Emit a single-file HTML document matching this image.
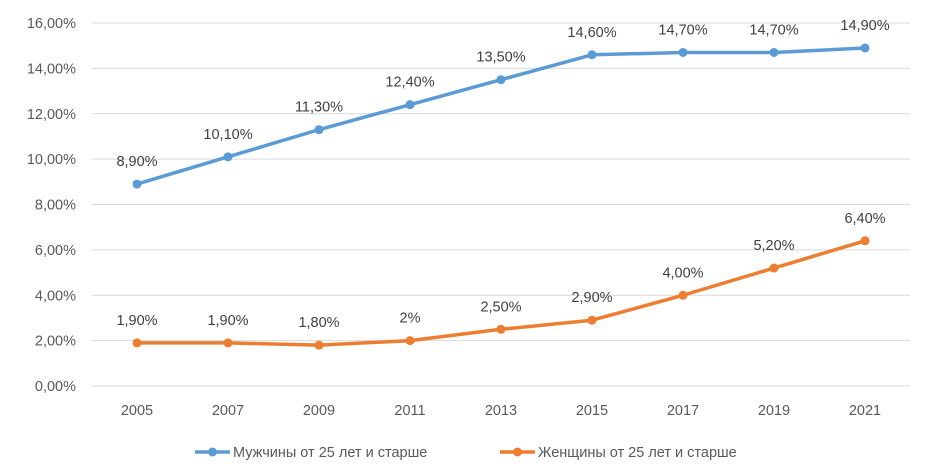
<!DOCTYPE html>
<html><head><meta charset="utf-8"><style>
html,body{margin:0;padding:0;background:#fff;}
svg{display:block;font-family:"Liberation Sans","DejaVu Sans",sans-serif;}
</style></head><body>
<svg id="chart" width="943" height="476" viewBox="0 0 943 476" xmlns="http://www.w3.org/2000/svg">
<g id="grid"></g>
<g id="yaxis"></g>
<g id="xaxis"></g>
<g id="series"></g>
<g id="legend"></g>
</svg>
<script>
const categories = ["2005","2007","2009","2011","2013","2015","2017","2019","2021"];
const menValues = [8.9,10.1,11.3,12.4,13.5,14.6,14.7,14.7,14.9];
const womenValues = [1.9,1.9,1.8,2.0,2.5,2.9,4.0,5.2,6.4];
const menLabels = ["8,90%","10,10%","11,30%","12,40%","13,50%","14,60%","14,70%","14,70%","14,90%"];
const womenLabels = ["1,90%","1,90%","1,80%","2%","2,50%","2,90%","4,00%","5,20%","6,40%"];
const yTicks = [0,2,4,6,8,10,12,14,16];
const yTickLabels = ["0,00%","2,00%","4,00%","6,00%","8,00%","10,00%","12,00%","14,00%","16,00%"];
const seriesNames = ["Мужчины от 25 лет и старше","Женщины от 25 лет и старше"];

const NS="http://www.w3.org/2000/svg";
function mk(tag,attrs,parent,text){const e=document.createElementNS(NS,tag);for(const k in attrs)e.setAttribute(k,attrs[k]);if(text!==undefined)e.textContent=text;parent.appendChild(e);return e;}
const x=i=>137+i*91;
const y=v=>386-v*(363/16);
const grid=document.getElementById('grid'),ya=document.getElementById('yaxis'),xa=document.getElementById('xaxis'),ser=document.getElementById('series'),leg=document.getElementById('legend');
yTicks.forEach((t,i)=>{
  const l=mk('line',{x1:92,x2:910,y1:y(t),y2:y(t),stroke:'#d9d9d9','stroke-width':1},grid);
  
  
  const tx=mk('text',{x:76,y:y(t)+5,'text-anchor':'end','font-size':14.5,fill:'#595959'},ya,yTickLabels[i]);
  
  
});
categories.forEach((c,i)=>{
  const tx=mk('text',{x:x(i),y:415,'text-anchor':'middle','font-size':14.5,fill:'#595959'},xa,c);
  
  
});
function drawSeries(vals,labels,color,name){
  const g=mk('g',{},ser);
  
  
  const p=mk('polyline',{points:vals.map((v,i)=>x(i)+','+y(v)).join(' '),fill:'none',stroke:color,'stroke-width':3.5,'stroke-linejoin':'round'},g);
  
  
  vals.forEach((v,i)=>{
    const c=mk('circle',{cx:x(i),cy:y(v),r:4.5,fill:color},g);
    
    
    const t=mk('text',{x:x(i),y:y(v)-18,'text-anchor':'middle','font-size':14.5,fill:'#404040'},g,labels[i]);
    
    
  });
}
drawSeries(menValues,menLabels,'#5b9bd5','men-series');
drawSeries(womenValues,womenLabels,'#ed7d31','women-series');
[[195,'#5b9bd5','legend-entry-men'],[500,'#ed7d31','legend-entry-women']].forEach((d,i)=>{
  const g=mk('g',{},leg);
  
  
  mk('line',{x1:d[0],x2:d[0]+35,y1:452,y2:452,stroke:d[1],'stroke-width':3.5},g);
  mk('circle',{cx:d[0]+17.5,cy:452,r:4.5,fill:d[1]},g);
  mk('text',{x:d[0]+38,y:457,'font-size':14.5,fill:'#595959'},g,seriesNames[i]);
});
</script>
</body></html>
